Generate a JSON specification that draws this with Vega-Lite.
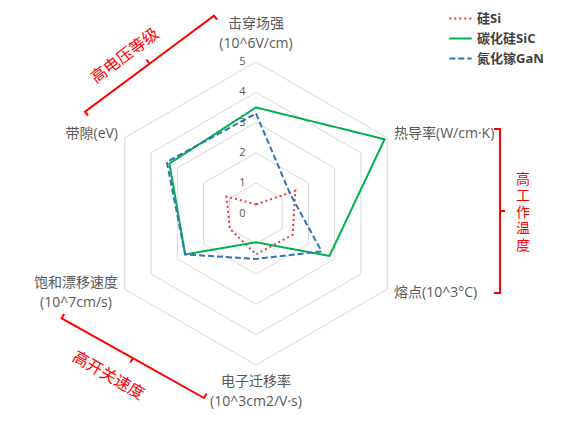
{
  "$schema": "https://vega.github.io/schema/vega-lite/v6.json",
  "width": 570,
  "height": 448,
  "autosize": {"type": "none"},
  "padding": 0,
  "background": "white",
  "config": {"view": {"stroke": null}, "text": {"font": "'Open Sans', 'Noto Sans CJK SC'"}},
  "datasets": {
    "main": [
      {"property": "击穿场强", "k": 0, "series": "硅Si", "value": 0.3},
      {"property": "热导率", "k": 1, "series": "硅Si", "value": 1.5},
      {"property": "熔点", "k": 2, "series": "硅Si", "value": 1.4},
      {"property": "电子迁移率", "k": 3, "series": "硅Si", "value": 1.35},
      {"property": "饱和漂移速度", "k": 4, "series": "硅Si", "value": 1.0},
      {"property": "带隙", "k": 5, "series": "硅Si", "value": 1.12},
      {"property": "击穿场强", "k": 0, "series": "碳化硅SiC", "value": 3.5},
      {"property": "热导率", "k": 1, "series": "碳化硅SiC", "value": 4.9},
      {"property": "熔点", "k": 2, "series": "碳化硅SiC", "value": 2.8},
      {"property": "电子迁移率", "k": 3, "series": "碳化硅SiC", "value": 0.95},
      {"property": "饱和漂移速度", "k": 4, "series": "碳化硅SiC", "value": 2.7},
      {"property": "带隙", "k": 5, "series": "碳化硅SiC", "value": 3.3},
      {"property": "击穿场强", "k": 0, "series": "氮化镓GaN", "value": 3.3},
      {"property": "热导率", "k": 1, "series": "氮化镓GaN", "value": 1.3},
      {"property": "熔点", "k": 2, "series": "氮化镓GaN", "value": 2.5},
      {"property": "电子迁移率", "k": 3, "series": "氮化镓GaN", "value": 1.5},
      {"property": "饱和漂移速度", "k": 4, "series": "氮化镓GaN", "value": 2.7},
      {"property": "带隙", "k": 5, "series": "氮化镓GaN", "value": 3.4}
    ],
    "grid": [
      {"level": 1, "k": [0, 1, 2, 3, 4, 5]},
      {"level": 2, "k": [0, 1, 2, 3, 4, 5]},
      {"level": 3, "k": [0, 1, 2, 3, 4, 5]},
      {"level": 4, "k": [0, 1, 2, 3, 4, 5]},
      {"level": 5, "k": [0, 1, 2, 3, 4, 5]}
    ],
    "ticks": [
      {"level": 0}, {"level": 1}, {"level": 2}, {"level": 3}, {"level": 4}, {"level": 5}
    ],
    "axes": [
      {"k": 0, "label": "击穿场强\n(10^6V/cm)"},
      {"k": 1, "label": "热导率(W/cm·K)"},
      {"k": 2, "label": "熔点(10^3°C)"},
      {"k": 3, "label": "电子迁移率\n(10^3cm2/V·s)"},
      {"k": 4, "label": "饱和漂移速度\n(10^7cm/s)"},
      {"k": 5, "label": "带隙(eV)"}
    ],
    "brackets": [
      {"g": 1, "i": 0, "px": -5.545, "py": 3.228},
      {"g": 1, "i": 1, "px": -5.644, "py": 3.360},
      {"g": 1, "i": 2, "px": -3.515, "py": 4.944},
      {"g": 1, "i": 3, "px": -3.614, "py": 5.076},
      {"g": 1, "i": 4, "px": -3.515, "py": 4.944},
      {"g": 1, "i": 5, "px": -1.386, "py": 6.528},
      {"g": 1, "i": 6, "px": -1.287, "py": 6.396},
      {"g": 2, "i": 0, "px": 7.855, "py": 2.789},
      {"g": 2, "i": 1, "px": 8.053, "py": 2.789},
      {"g": 2, "i": 2, "px": 8.053, "py": 0.083},
      {"g": 2, "i": 3, "px": 8.218, "py": 0.083},
      {"g": 2, "i": 4, "px": 8.053, "py": 0.083},
      {"g": 2, "i": 5, "px": 8.053, "py": -2.624},
      {"g": 2, "i": 6, "px": 7.855, "py": -2.624},
      {"g": 3, "i": 0, "px": -6.333, "py": -3.314},
      {"g": 3, "i": 1, "px": -6.413, "py": -3.459},
      {"g": 3, "i": 2, "px": -4.064, "py": -4.774},
      {"g": 3, "i": 3, "px": -4.144, "py": -4.919},
      {"g": 3, "i": 4, "px": -4.064, "py": -4.774},
      {"g": 3, "i": 5, "px": -1.716, "py": -6.089},
      {"g": 3, "i": 6, "px": -1.637, "py": -5.944}
    ]
  },
  "layer": [
    {
      "data": {"name": "grid"},
      "transform": [
        {"flatten": ["k"]},
        {"calculate": "PI / 2 - datum.k * PI / 3", "as": "ang"},
        {"calculate": "datum.level * cos(datum.ang)", "as": "px"},
        {"calculate": "datum.level * sin(datum.ang)", "as": "py"}
      ],
      "mark": {"type": "line", "interpolate": "linear-closed", "color": "#d9d9d9", "strokeWidth": 1},
      "encoding": {
        "x": {"field": "px", "type": "quantitative", "scale": {"domain": [-8.449, 10.363], "nice": false, "zero": false}, "axis": null},
        "y": {"field": "py", "type": "quantitative", "scale": {"domain": [-7.739, 7.046], "nice": false, "zero": false}, "axis": null},
        "detail": {"field": "level", "type": "nominal"},
        "order": {"field": "k", "type": "quantitative"}
      }
    },
    {
      "data": {"name": "main"},
      "transform": [
        {"calculate": "PI / 2 - datum.k * PI / 3", "as": "ang"},
        {"calculate": "datum.value * cos(datum.ang)", "as": "px"},
        {"calculate": "datum.value * sin(datum.ang)", "as": "py"}
      ],
      "mark": {"type": "line", "interpolate": "linear-closed", "strokeWidth": 2},
      "encoding": {
        "x": {"field": "px", "type": "quantitative", "scale": {"domain": [-8.449, 10.363], "nice": false, "zero": false}, "axis": null},
        "y": {"field": "py", "type": "quantitative", "scale": {"domain": [-7.739, 7.046], "nice": false, "zero": false}, "axis": null},
        "order": {"field": "k", "type": "quantitative"},
        "color": {
          "field": "series", "type": "nominal",
          "scale": {"domain": ["硅Si", "碳化硅SiC", "氮化镓GaN"], "range": ["#E53935", "#00B050", "#2E75B6"]},
          "legend": {"orient": "none", "legendX": 448, "legendY": 6, "title": null, "symbolType": "stroke", "symbolSize": 500, "symbolStrokeWidth": 2, "labelFont": "'Open Sans', 'Noto Sans CJK SC'", "labelFontSize": 13, "labelFontWeight": "bold", "labelColor": "#404040", "rowPadding": 0, "padding": 0, "labelOffset": 4}
        },
        "strokeDash": {
          "field": "series", "type": "nominal",
          "scale": {"domain": ["硅Si", "碳化硅SiC", "氮化镓GaN"], "range": [[2, 3], [1, 0], [6, 3]]},
          "legend": {"orient": "none", "legendX": 448, "legendY": 6, "title": null, "symbolType": "stroke", "symbolSize": 500, "symbolStrokeWidth": 2, "labelFont": "'Open Sans', 'Noto Sans CJK SC'", "labelFontSize": 13, "labelFontWeight": "bold", "labelColor": "#404040", "rowPadding": 0, "padding": 0, "labelOffset": 4}
        }
      }
    },
    {
      "data": {"name": "ticks"},
      "mark": {"type": "text", "align": "center", "baseline": "middle", "fontSize": 11, "color": "#595959"},
      "encoding": {
        "x": {"datum": -0.45, "type": "quantitative", "scale": {"domain": [-8.449, 10.363], "nice": false, "zero": false}, "axis": null},
        "y": {"field": "level", "type": "quantitative", "scale": {"domain": [-7.739, 7.046], "nice": false, "zero": false}, "axis": null},
        "text": {"field": "level", "type": "quantitative"}
      }
    },
    {
      "data": {"name": "axes"},
      "transform": [
        {"filter": "datum.k == 0"},
        {"calculate": "PI / 2 - datum.k * PI / 3", "as": "ang"},
        {"calculate": "6.254 * cos(datum.ang)", "as": "px"},
        {"calculate": "6.254 * sin(datum.ang)", "as": "py"}
      ],
      "mark": {"type": "text", "align": "center", "baseline": "middle", "fontSize": 14, "color": "#595959", "lineBreak": "\n", "lineHeight": 20.5},
      "encoding": {
        "x": {"field": "px", "type": "quantitative", "scale": {"domain": [-8.449, 10.363], "nice": false, "zero": false}, "axis": null},
        "y": {"field": "py", "type": "quantitative", "scale": {"domain": [-7.739, 7.046], "nice": false, "zero": false}, "axis": null},
        "text": {"field": "label", "type": "nominal"}
      }
    },
    {
      "data": {"name": "axes"},
      "transform": [
        {"filter": "datum.k == 3"},
        {"calculate": "PI / 2 - datum.k * PI / 3", "as": "ang"},
        {"calculate": "5.561 * cos(datum.ang)", "as": "px"},
        {"calculate": "5.561 * sin(datum.ang)", "as": "py"}
      ],
      "mark": {"type": "text", "align": "center", "baseline": "middle", "fontSize": 14, "color": "#595959", "lineBreak": "\n", "lineHeight": 20},
      "encoding": {
        "x": {"field": "px", "type": "quantitative", "scale": {"domain": [-8.449, 10.363], "nice": false, "zero": false}, "axis": null},
        "y": {"field": "py", "type": "quantitative", "scale": {"domain": [-7.739, 7.046], "nice": false, "zero": false}, "axis": null},
        "text": {"field": "label", "type": "nominal"}
      }
    },
    {
      "data": {"name": "axes"},
      "transform": [
        {"filter": "datum.k == 1 || datum.k == 2"},
        {"calculate": "PI / 2 - datum.k * PI / 3", "as": "ang"},
        {"calculate": "5.26 * cos(datum.ang)", "as": "px"},
        {"calculate": "5.26 * sin(datum.ang)", "as": "py"}
      ],
      "mark": {"type": "text", "align": "left", "baseline": "middle", "fontSize": 14, "color": "#595959"},
      "encoding": {
        "x": {"field": "px", "type": "quantitative", "scale": {"domain": [-8.449, 10.363], "nice": false, "zero": false}, "axis": null},
        "y": {"field": "py", "type": "quantitative", "scale": {"domain": [-7.739, 7.046], "nice": false, "zero": false}, "axis": null},
        "text": {"field": "label", "type": "nominal"}
      }
    },
    {
      "data": {"name": "axes"},
      "transform": [
        {"filter": "datum.k == 5"},
        {"calculate": "PI / 2 - datum.k * PI / 3", "as": "ang"},
        {"calculate": "5.26 * cos(datum.ang)", "as": "px"},
        {"calculate": "5.26 * sin(datum.ang)", "as": "py"}
      ],
      "mark": {"type": "text", "align": "right", "baseline": "middle", "fontSize": 14, "color": "#595959"},
      "encoding": {
        "x": {"field": "px", "type": "quantitative", "scale": {"domain": [-8.449, 10.363], "nice": false, "zero": false}, "axis": null},
        "y": {"field": "py", "type": "quantitative", "scale": {"domain": [-7.739, 7.046], "nice": false, "zero": false}, "axis": null},
        "text": {"field": "label", "type": "nominal"}
      }
    },
    {
      "data": {"name": "axes"},
      "transform": [
        {"filter": "datum.k == 4"},
        {"calculate": "PI / 2 - datum.k * PI / 3", "as": "ang"},
        {"calculate": "5.26 * cos(datum.ang)", "as": "px"},
        {"calculate": "5.26 * sin(datum.ang)", "as": "py"}
      ],
      "mark": {"type": "text", "align": "center", "baseline": "middle", "fontSize": 14, "color": "#595959", "lineBreak": "\n", "lineHeight": 20, "dx": -42, "dy": -10},
      "encoding": {
        "x": {"field": "px", "type": "quantitative", "scale": {"domain": [-8.449, 10.363], "nice": false, "zero": false}, "axis": null},
        "y": {"field": "py", "type": "quantitative", "scale": {"domain": [-7.739, 7.046], "nice": false, "zero": false}, "axis": null},
        "text": {"field": "label", "type": "nominal"}
      }
    },
    {
      "data": {"name": "brackets"},
      "mark": {"type": "line", "color": "#FF0000", "strokeWidth": 2},
      "encoding": {
        "x": {"field": "px", "type": "quantitative", "scale": {"domain": [-8.449, 10.363], "nice": false, "zero": false}, "axis": null},
        "y": {"field": "py", "type": "quantitative", "scale": {"domain": [-7.739, 7.046], "nice": false, "zero": false}, "axis": null},
        "detail": {"field": "g", "type": "nominal"},
        "order": {"field": "i", "type": "quantitative"}
      }
    },
    {
      "data": {"values": [{"t": "高电压等级"}]},
      "mark": {"type": "text", "align": "center", "baseline": "middle", "fontSize": 16, "color": "#FF0000", "angle": -37},
      "encoding": {
        "x": {"datum": -4.323, "type": "quantitative", "scale": {"domain": [-8.449, 10.363], "nice": false, "zero": false}, "axis": null},
        "y": {"datum": 5.198, "type": "quantitative", "scale": {"domain": [-7.739, 7.046], "nice": false, "zero": false}, "axis": null},
        "text": {"field": "t", "type": "nominal"}
      }
    },
    {
      "data": {"values": [{"t": "高\n工\n作\n温\n度"}]},
      "mark": {"type": "text", "align": "center", "baseline": "middle", "fontSize": 14, "color": "#FF0000", "lineBreak": "\n", "lineHeight": 16.5},
      "encoding": {
        "x": {"datum": 8.812, "type": "quantitative", "scale": {"domain": [-8.449, 10.363], "nice": false, "zero": false}, "axis": null},
        "y": {"datum": 1.106, "type": "quantitative", "scale": {"domain": [-7.739, 7.046], "nice": false, "zero": false}, "axis": null},
        "text": {"field": "t", "type": "nominal"}
      }
    },
    {
      "data": {"values": [{"t": "高开关速度"}]},
      "mark": {"type": "text", "align": "center", "baseline": "middle", "fontSize": 16, "color": "#FF0000", "angle": 30},
      "encoding": {
        "x": {"datum": -4.875, "type": "quantitative", "scale": {"domain": [-8.449, 10.363], "nice": false, "zero": false}, "axis": null},
        "y": {"datum": -5.356, "type": "quantitative", "scale": {"domain": [-7.739, 7.046], "nice": false, "zero": false}, "axis": null},
        "text": {"field": "t", "type": "nominal"}
      }
    }
  ]
}
